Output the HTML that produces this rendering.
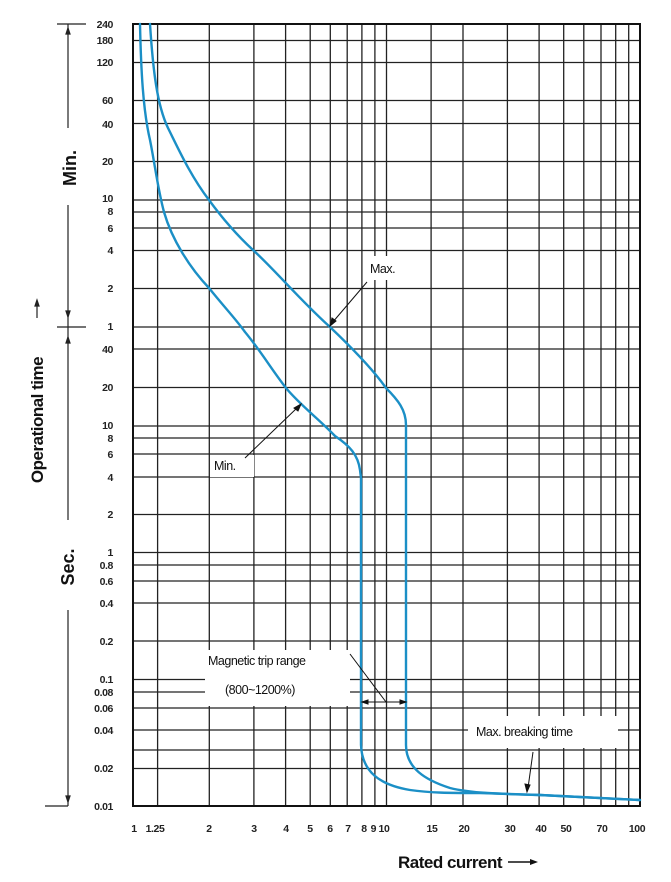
<!DOCTYPE html>
<html><head><meta charset="utf-8"><style>
html,body{margin:0;padding:0;background:#fff;}
svg{display:block;font-family:"Liberation Sans",Arial,sans-serif;}
</style></head><body>
<svg width="671" height="882" viewBox="0 0 671 882" xmlns="http://www.w3.org/2000/svg">
<rect width="671" height="882" fill="#fff"/>
<g stroke="#222" stroke-width="1.3">
<!-- vertical grid -->
<line x1="157.6" y1="24" x2="157.6" y2="806"/>
<line x1="209.3" y1="24" x2="209.3" y2="806"/>
<line x1="253.9" y1="24" x2="253.9" y2="806"/>
<line x1="285.6" y1="24" x2="285.6" y2="806"/>
<line x1="310.2" y1="24" x2="310.2" y2="806"/>
<line x1="330.3" y1="24" x2="330.3" y2="806"/>
<line x1="347.2" y1="24" x2="347.2" y2="806"/>
<line x1="361.9" y1="24" x2="361.9" y2="806"/>
<line x1="374.9" y1="24" x2="374.9" y2="806"/>
<line x1="386.5" y1="24" x2="386.5" y2="806"/>
<line x1="431.1" y1="24" x2="431.1" y2="806"/>
<line x1="463" y1="24" x2="463" y2="806"/>
<line x1="507.4" y1="24" x2="507.4" y2="806"/>
<line x1="539.1" y1="24" x2="539.1" y2="806"/>
<line x1="563.7" y1="24" x2="563.7" y2="806"/>
<line x1="583.8" y1="24" x2="583.8" y2="806"/>
<line x1="601" y1="24" x2="601" y2="806"/>
<line x1="615.7" y1="24" x2="615.7" y2="806"/>
<line x1="628.7" y1="24" x2="628.7" y2="806"/>
<!-- horizontal grid -->
<line x1="133" y1="40.5" x2="640" y2="40.5"/>
<line x1="133" y1="62.5" x2="640" y2="62.5"/>
<line x1="133" y1="100.5" x2="640" y2="100.5"/>
<line x1="133" y1="123.5" x2="640" y2="123.5"/>
<line x1="133" y1="161.5" x2="640" y2="161.5"/>
<line x1="133" y1="200" x2="640" y2="200"/>
<line x1="133" y1="212" x2="640" y2="212"/>
<line x1="133" y1="228" x2="640" y2="228"/>
<line x1="133" y1="250.5" x2="640" y2="250.5"/>
<line x1="133" y1="288.5" x2="640" y2="288.5"/>
<line x1="133" y1="327" x2="640" y2="327"/>
<line x1="133" y1="349" x2="640" y2="349"/>
<line x1="133" y1="387.5" x2="640" y2="387.5"/>
<line x1="133" y1="426" x2="640" y2="426"/>
<line x1="133" y1="438" x2="640" y2="438"/>
<line x1="133" y1="454" x2="640" y2="454"/>
<line x1="133" y1="477" x2="640" y2="477"/>
<line x1="133" y1="514.5" x2="640" y2="514.5"/>
<line x1="133" y1="552.5" x2="640" y2="552.5"/>
<line x1="133" y1="565" x2="640" y2="565"/>
<line x1="133" y1="581" x2="640" y2="581"/>
<line x1="133" y1="603" x2="640" y2="603"/>
<line x1="133" y1="641" x2="640" y2="641"/>
<line x1="133" y1="679.5" x2="640" y2="679.5"/>
<line x1="133" y1="692" x2="640" y2="692"/>
<line x1="133" y1="708" x2="640" y2="708"/>
<line x1="133" y1="730" x2="640" y2="730"/>
<line x1="133" y1="750" x2="640" y2="750"/>
<line x1="133" y1="768.5" x2="640" y2="768.5"/>
</g>
<rect x="133" y="24" width="507" height="782" fill="none" stroke="#111" stroke-width="2"/>

<!-- label boxes -->
<rect x="205" y="650" width="145" height="56" fill="#fff"/>
<rect x="468" y="716" width="150" height="32" fill="#fff"/>
<rect x="366" y="256" width="46" height="24" fill="#fff"/>
<rect x="210" y="455" width="44" height="22" fill="#fff"/>

<!-- curves -->
<g fill="none" stroke="#1b8fc6" stroke-width="2.4" stroke-linejoin="round" stroke-linecap="round">
<path d="M150,24 C153,70 157,105 168,128 C178,148 190,175 209,200 C225,222 240,238 253,250 C275,270 300,300 330,327 C350,346 372,368 386,388 C398,400 406,410 406,425 L406,745 C406,768 425,780 450,788 C470,793 500,794 540,795 L640,800"/>
<path d="M140,24 C141,70 143,110 150,140 C155,165 158,190 164,212 C172,240 190,268 209,288 C225,308 235,318 245,332 C260,350 272,370 286,388 C300,405 320,420 335,436 C350,446 358,455 360,470 L361,478 L361,745 C362,772 380,785 410,790 C430,793 450,793 480,793 L540,795 L640,800"/>
</g>

<!-- y tick labels -->
<g font-size="10.5" font-weight="bold" text-anchor="end" fill="#222" letter-spacing="-0.4">
<text x="113" y="28">240</text>
<text x="113" y="44">180</text>
<text x="113" y="66">120</text>
<text x="113" y="104">60</text>
<text x="113" y="128">40</text>
<text x="113" y="165">20</text>
<text x="113" y="202">10</text>
<text x="113" y="215">8</text>
<text x="113" y="232">6</text>
<text x="113" y="254">4</text>
<text x="113" y="292">2</text>
<text x="113" y="330">1</text>
<text x="113" y="353">40</text>
<text x="113" y="391">20</text>
<text x="113" y="429">10</text>
<text x="113" y="442">8</text>
<text x="113" y="458">6</text>
<text x="113" y="481">4</text>
<text x="113" y="518">2</text>
<text x="113" y="556">1</text>
<text x="113" y="569">0.8</text>
<text x="113" y="585">0.6</text>
<text x="113" y="607">0.4</text>
<text x="113" y="645">0.2</text>
<text x="113" y="683">0.1</text>
<text x="113" y="696">0.08</text>
<text x="113" y="712">0.06</text>
<text x="113" y="734">0.04</text>
<text x="113" y="772">0.02</text>
<text x="113" y="810">0.01</text>
</g>
<!-- x tick labels -->
<g font-size="10.5" font-weight="bold" text-anchor="middle" fill="#222" letter-spacing="-0.4">
<text x="134" y="832">1</text>
<text x="155" y="832">1.25</text>
<text x="209" y="832">2</text>
<text x="254" y="832">3</text>
<text x="286" y="832">4</text>
<text x="310" y="832">5</text>
<text x="330" y="832">6</text>
<text x="348" y="832">7</text>
<text x="364" y="832">8</text>
<text x="380" y="832">9 10</text>
<text x="432" y="832">15</text>
<text x="464" y="832">20</text>
<text x="510" y="832">30</text>
<text x="541" y="832">40</text>
<text x="566" y="832">50</text>
<text x="602" y="832">70</text>
<text x="637" y="832">100</text>
</g>

<!-- left axis decorations -->
<g stroke="#222" stroke-width="1.2" fill="#222">
<line x1="57" y1="24" x2="86" y2="24"/>
<line x1="68" y1="24" x2="68" y2="128"/>
<line x1="68" y1="205" x2="68" y2="520"/>
<line x1="57" y1="327" x2="86" y2="327"/>
<line x1="68" y1="610" x2="68" y2="806"/>
<line x1="45" y1="806" x2="68" y2="806"/>
<polygon points="68,28 66,34 70,34" />
<polygon points="68,317 66,311 70,311"/>
<polygon points="68,337 66,343 70,343"/>
<polygon points="68,802 66,796 70,796"/>
<line x1="37" y1="305" x2="37" y2="318"/>
<polygon points="37,300 35,306 39,306"/>
</g>
<g font-weight="bold" fill="#111">
<text transform="translate(76,168) rotate(-90)" font-size="18" text-anchor="middle">Min.</text>
<text transform="translate(74,567) rotate(-90)" font-size="18" text-anchor="middle">Sec.</text>
<text transform="translate(43,420) rotate(-90)" font-size="17" text-anchor="middle" letter-spacing="-0.5">Operational time</text>
<text x="450" y="868" font-size="17" text-anchor="middle" letter-spacing="-0.5">Rated current</text>
</g>
<line x1="508" y1="862" x2="532" y2="862" stroke="#111" stroke-width="1.6"/>
<polygon points="538,862 530,859 530,865" fill="#111"/>

<!-- annotations -->
<g font-size="12.5" fill="#111" letter-spacing="-0.5">
<text x="370" y="273">Max.</text>
<text x="214" y="470">Min.</text>
<text x="208" y="665">Magnetic trip range</text>
<text x="225" y="694">(800~1200%)</text>
<text x="476" y="736">Max. breaking time</text>
</g>
<g stroke="#111" stroke-width="1" fill="#111">
<line x1="367" y1="282" x2="332" y2="323"/>
<polygon points="330,326 332,318 336,321"/>
<line x1="245" y1="458" x2="298" y2="407"/>
<polygon points="301,404 298,411 294,408"/>
<line x1="350" y1="654" x2="386" y2="702"/>
<line x1="362" y1="702" x2="406" y2="702"/>
<polygon points="362,702 368,700 368,704"/>
<polygon points="406,702 400,700 400,704"/>
<line x1="533" y1="752" x2="528" y2="788"/>
<polygon points="527,792 525,784 530,785"/>
</g>
</svg>
</body></html>
